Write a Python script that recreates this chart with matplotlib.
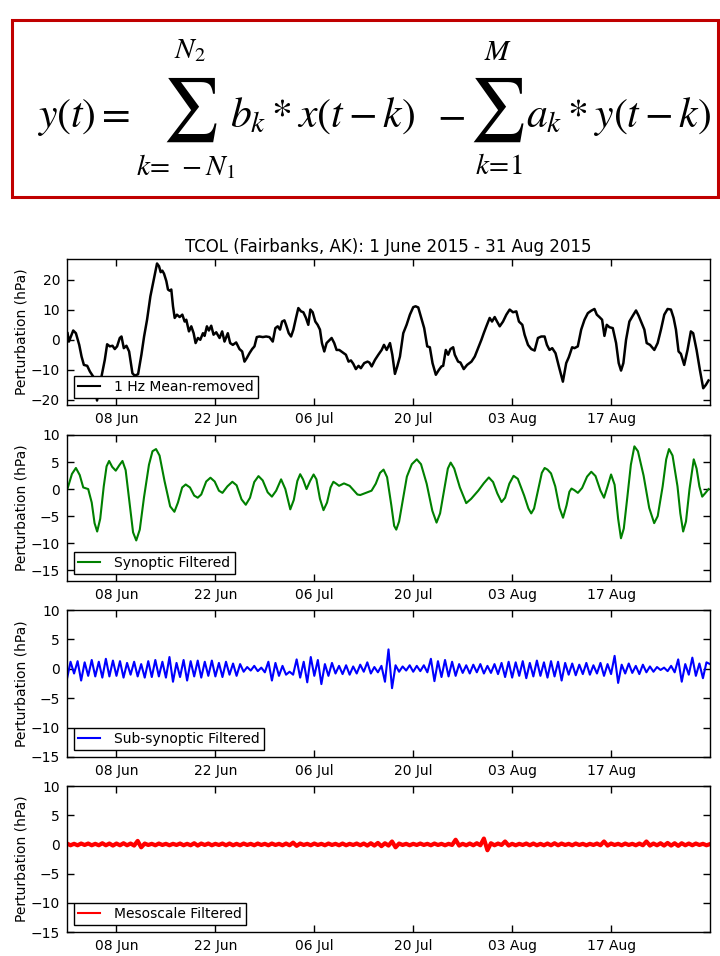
import datetime as dt
import numpy as np
import matplotlib
matplotlib.use("Agg")
import matplotlib.pyplot as plt
import matplotlib.dates as mdates
from matplotlib.patches import Rectangle

plt.rcParams['font.family'] = ['DejaVu Sans']
plt.rcParams['mathtext.fontset'] = 'stix'
plt.rcParams['axes.unicode_minus'] = True

# ---------------- data (days since 2015-06-01, hPa) ----------------
START = dt.datetime(2015, 6, 1)
END = dt.datetime(2015, 8, 31)
tick_dates = [dt.datetime(2015, 6, 8), dt.datetime(2015, 6, 22), dt.datetime(2015, 7, 6),
              dt.datetime(2015, 7, 20), dt.datetime(2015, 8, 3), dt.datetime(2015, 8, 17)]

raw_days = [0.08, 0.27, 0.55, 0.88, 1.26, 1.73, 2.06, 2.39, 2.86, 3.24, 3.71, 4.0, 4.25, 4.5,
            4.88, 5.35, 5.68, 6.06, 6.44, 6.76, 7.09, 7.47, 7.71, 8.04, 8.41, 8.79, 9.26, 9.59,
            10.06, 10.53, 10.91, 11.33, 11.80, 12.18, 12.51, 12.74, 13.02, 13.26, 13.49, 13.73,
            14.06, 14.29, 14.53, 14.76, 15.00, 15.24, 15.56, 15.94, 16.32, 16.65, 16.88, 17.26,
            17.59, 17.92, 18.20, 18.53, 18.86, 19.24, 19.47, 19.80, 20.08, 20.41, 20.74, 21.12,
            21.59, 21.96, 22.29, 22.76, 23.09, 23.47, 23.94, 24.41, 24.79, 25.12, 25.45, 25.82,
            26.20, 26.53, 26.86, 27.24, 27.71, 28.18, 28.65, 29.12, 29.49, 29.82, 30.15, 30.44,
            30.77, 31.00, 31.38, 31.71, 32.04, 32.41, 32.74, 33.12, 33.45, 33.82, 34.15, 34.44,
            34.77, 35.14, 35.47, 35.80, 36.08, 36.41, 36.74, 37.12, 37.45, 37.82, 38.15, 38.53,
            39.00, 39.47, 39.85, 40.18, 40.51, 40.88, 41.26, 41.59, 42.06, 42.53,
            42.79, 43.12, 43.59, 44.06, 44.53, 44.86, 45.24, 45.71, 46.04, 46.41, 46.74, 47.12,
            47.59, 48.06, 48.53, 49.00, 49.33, 49.71, 50.08, 50.55, 50.98, 51.35, 51.73, 52.20,
            52.62, 53.00, 53.24, 53.61, 53.94, 54.27, 54.65, 54.88, 55.35, 55.68, 56.15, 56.62,
            57.24, 57.71, 58.18, 58.65, 58.98, 59.35, 59.82, 60.15, 60.53, 60.86, 61.24, 61.71,
            62.18, 62.65, 63.12, 63.59, 63.96, 64.44, 64.76, 65.24, 65.71, 66.18, 66.65, 67.12,
            67.59, 67.92, 68.29, 68.67, 69.14, 69.61, 70.18, 70.65, 71.02, 71.49, 71.82, 72.29,
            72.77, 73.24, 73.71, 74.18, 74.65, 74.98, 75.35, 75.73, 76.06, 76.39, 76.77, 77.24,
            77.71, 78.08, 78.41, 78.74, 79.12, 79.59, 80.06, 80.53, 80.91, 81.24, 81.71, 82.04,
            82.51, 83.12, 83.59, 84.06, 84.53, 85.00, 85.47, 85.85, 86.18, 86.55, 86.88, 87.35,
            87.82, 88.29, 88.62, 89.10, 89.57, 90.04, 90.41, 90.79]
raw_values = [2.2, -0.6, 1.1, 3.1, 2.2, -1.7, -5.6, -8.4, -8.7, -10.6, -12.3, -16.0, -20.3, -17.0,
              -12.3, -6.7, -1.5, -2.2, -2.0, -3.1, -2.2, 0.6, 1.1, -2.8, -2.0, -3.9, -11.2, -12.0,
              -11.5, -5.0, 1.1, 6.7, 14.5, 19.0, 22.9, 25.5, 24.6, 22.6, 23.1, 22.1,
              19.6, 16.8, 16.4, 16.8, 11.2, 7.3, 8.4, 7.6, 8.4, 6.1, 6.7, 2.8,
              4.5, 2.2, -1.1, 0.6, 0.0, 2.2, 1.3, 4.5, 3.1, 4.7, 1.7, 2.5,
              0.6, 2.8, -0.6, 2.2, -1.1, -1.7, -0.9, -3.1, -3.9, -7.3, -6.1, -4.5,
              -3.1, -2.2, 0.9, 1.1, 0.9, 1.1, 0.9, -0.6, 3.9, 4.5, 3.4, 6.1,
              6.5, 5.0, 2.2, 1.1, 3.4, 7.3, 10.6, 9.5, 9.2, 7.3, 5.0, 10.1,
              9.2, 6.1, 5.0, 3.4, -1.1, -3.9, -1.1, -0.2, 0.6, -1.1, -3.4, -3.4,
              -4.2, -5.0, -7.3, -6.9, -8.0, -9.8, -8.7, -9.5, -7.8, -7.3,
              -7.6, -8.9, -6.7, -5.0, -3.4, -1.7, -3.4, -1.1, -5.0, -11.4, -8.9, -5.6,
              2.2, 5.0, 8.4, 10.9, 11.2, 10.8, 7.8, 3.9, -2.2, -2.5, -7.8, -11.7,
              -10.1, -8.9, -8.7, -3.4, -5.0, -3.1, -2.5, -5.0, -7.3, -7.6, -9.8, -8.4,
              -7.3, -5.6, -2.8, 0.0, 2.2, 4.5, 7.3, 6.1, 7.6, 6.1, 4.5, 6.1,
              8.4, 10.1, 9.2, 9.5, 6.1, 5.0, 1.7, -1.7, -3.1, -3.6, 0.6, 1.1,
              1.1, -1.7, -3.4, -2.8, -4.5, -8.9, -14.0, -7.8, -5.8, -2.5, -2.8, -2.2,
              3.4, 6.7, 8.9, 9.7, 10.3, 8.4, 7.6, 6.7, 1.3, 5.0, 4.2, 3.9,
              -1.1, -7.8, -10.3, -7.8, 0.0, 6.1, 8.0, 9.8, 8.0, 6.1, 3.4, -1.1,
              -1.7, -3.4, -1.1, 3.4, 8.4, 10.3, 10.1, 7.3, 3.4, -3.9, -4.7, -8.4,
              -3.4, 2.8, 2.2, -3.4, -10.1, -16.2, -15.1, -13.6]

syn_days = [0.08, 0.7, 1.26, 1.8, 2.3, 3.0, 3.5, 3.9, 4.27, 4.7, 5.2, 5.6, 5.96, 6.4, 6.9, 7.4,
            7.85, 8.3, 8.8, 9.35, 9.8, 10.3, 10.9, 11.6, 12.1, 12.6, 13.1, 13.8, 14.6, 15.2, 15.7,
            16.3, 16.8, 17.4, 18.0, 18.5, 19.0, 19.7, 20.3, 20.9, 21.5, 22.0, 22.7, 23.4, 24.0,
            24.7, 25.3, 25.9, 26.5, 27.1, 27.7, 28.4, 29.0, 29.6, 30.3, 30.9, 31.6, 32.1, 32.6,
            33.0, 33.4, 33.9, 34.4, 34.9, 35.3, 35.8, 36.3, 36.8, 37.3, 37.7, 38.1, 38.5, 39.2,
            40.0, 41.1, 41.5, 42.3, 43.1, 43.7, 44.3, 44.8, 45.3, 45.9, 46.3, 46.6, 47.0, 47.6,
            48.1, 48.8, 49.5, 50.1, 50.9, 51.7, 52.3, 52.8, 53.4, 53.9, 54.3, 54.8, 55.6, 56.5,
            57.2, 58.2, 59.0, 59.7, 60.3, 60.9, 61.5, 62.0, 62.6, 63.2, 63.8, 64.7, 65.3, 65.7,
            66.1, 66.8, 67.2, 67.6, 68.0, 68.5, 69.1, 69.7, 70.2, 70.7, 71.1, 71.4, 71.8, 72.3,
            72.9, 73.6, 74.2, 74.8, 75.5, 76.0, 76.5, 77.0, 77.5, 78.0, 78.4, 78.8, 79.3, 79.8,
            80.3, 80.8, 81.6, 82.4, 83.1, 83.6, 84.3, 84.8, 85.2, 85.7, 86.4, 86.8, 87.2, 87.6,
            88.1, 88.7, 89.1, 89.5, 89.9, 90.3, 90.8]
syn_values = [0.1, 2.8, 3.9, 2.6, 0.3, 0.0, -2.5, -6.3, -7.85, -5.5, 0.5, 4.2, 5.2, 4.1, 3.4, 4.4,
              5.2, 3.5, -2.0, -8.0, -9.5, -7.5, -1.5, 4.5, 7.0, 7.4, 6.2, 1.5, -3.2, -4.2, -2.5,
              0.3, 0.85, 0.3, -1.2, -1.6, -1.0, 1.4, 2.1, 1.4, -0.3, -0.7, 0.5, 1.35, 0.7,
              -1.9, -2.9, -1.6, 1.3, 2.4, 1.6, -0.6, -1.4, -0.3, 1.8, 0.0, -3.75, -2.0, 1.5,
              2.75, 1.8, 0.0, 1.5, 2.7, 1.8, -1.8, -3.9, -2.5, 0.3, 1.35, 1.0, 0.6, 1.05,
              0.6, -1.0, -1.1, -0.7, -0.3, 1.0, 3.0, 3.6, 2.2, -3.0, -6.8, -7.5, -6.0, -1.5,
              2.3, 4.6, 5.5, 4.6, 1.0, -4.0, -6.2, -4.5, 0.0, 3.8, 4.9, 3.8, 0.3, -2.6,
              -1.8, -0.3, 1.1, 2.15, 1.3, -0.8, -2.4, -1.6, 1.0, 2.45, 1.9, -1.2, -3.6, -4.5,
              -3.6, 0.6, 3.0, 3.9, 3.6, 2.9, 0.5, -3.5, -5.3, -3.0, -0.5, 0.1, -0.2, -0.7,
              0.2, 2.3, 3.2, 2.4, -0.3, -1.6, 0.5, 2.7, 0.8, -5.5, -9.1, -7.3, -1.5, 4.5,
              7.9, 7.0, 2.5, -3.5, -6.3, -5.0, 0.5, 5.5, 7.4, 6.2, 0.5, -4.5, -7.85, -6.0,
              0.0, 5.5, 3.8, 0.5, -1.4, -0.8, 0.0]

# sub-synoptic and mesoscale: one value every half day from 1 Jun to 31 Aug
half_day_step = 0.5
sub_values = [-1.7, 1.2, -0.8, 1.3, -2.0, 1.1, -1.2, 1.5, -1.3, 1.2,
              -1.5, 1.7, -1.3, 1.4, -1.2, 1.3, -1.5, 1.0, -1.0, 1.2,
              -1.3, 0.8, -1.5, 1.3, -1.4, 1.5, -1.3, 1.2, -1.5, 2.0,
              -2.2, 1.0, -1.4, 1.5, -2.0, 1.3, -1.3, 1.4, -1.5, 1.2,
              -1.2, 1.4, -1.3, 1.0, -1.4, 1.2, -1.0, 0.9, -1.2, 0.8,
              -0.5, 0.3, -0.3, 0.5, -0.4, 0.2, -0.6, 1.2, -2.0, 1.0,
              -1.2, 0.5, -1.0, -0.5, -1.0, 1.6, -1.5, 1.2, -2.3, 2.0,
              -1.2, 1.5, -2.6, 0.8, -1.2, 1.0, -0.8, 0.5, -0.9, 0.6,
              -1.0, 0.4, -0.8, 0.7, -0.5, 1.1, -0.8, 0.3, -0.6, 0.5,
              -2.2, 3.3, -3.3, 0.6, -0.5, 0.4, -0.3, 0.6, -0.5, 0.5,
              -0.4, 0.6, -0.6, 1.7, -2.1, 1.3, -1.4, 1.5, -1.3, 1.2,
              -1.2, 0.8, -0.7, 0.6, -0.8, 0.7, -0.6, 0.8, -0.8, 0.5,
              -0.7, 0.8, -0.9, 1.0, -1.4, 1.2, -1.5, 1.1, -1.2, 1.3,
              -1.6, 1.0, -1.3, 1.4, -1.2, 1.1, -1.5, 1.3, -1.3, 1.2,
              -2.0, 1.0, -1.0, 0.9, -1.1, 0.7, -0.9, 1.0, -1.0, 0.6,
              -0.8, 1.0, -1.2, 0.8, -0.9, 2.2, -2.4, 0.7, -0.8, 0.9,
              -0.7, 0.5, -0.9, 0.7, -0.6, 0.4, -0.5, 0.3, -0.2, 0.2,
              -0.4, 0.5, -0.6, 1.6, -2.2, 0.8, -1.0, 1.9, -1.2, 0.9,
              -1.6, 1.1, 0.8]
meso_values = [0.15, -0.15, 0.1, -0.15, 0.15, -0.1, 0.15, -0.15, 0.1, -0.15,
               0.2, -0.15, 0.15, -0.2, 0.15, -0.15, 0.2, -0.15, 0.15, -0.2,
               0.6, -0.5, 0.15, -0.1, 0.1, -0.15, 0.15, -0.1, 0.1, -0.15,
               0.1, -0.1, 0.15, -0.15, 0.1, -0.15, 0.2, -0.2, 0.15, -0.1,
               0.15, -0.15, 0.1, -0.1, 0.15, -0.15, 0.15, -0.15, 0.1, -0.15,
               0.15, -0.1, 0.1, -0.15, 0.15, -0.1, 0.1, -0.15, 0.15, -0.1,
               0.1, -0.15, 0.15, -0.15, 0.3, -0.25, 0.15, -0.1, 0.1, -0.15,
               0.15, -0.1, 0.1, -0.15, 0.15, -0.1, 0.1, -0.15, 0.15, -0.15,
               0.1, -0.1, 0.15, -0.15, 0.15, -0.2, 0.2, -0.2, 0.25, -0.3,
               0.2, -0.2, 0.5, -0.5, 0.15, -0.1, 0.1, -0.15, 0.1, -0.1,
               0.15, -0.1, 0.1, -0.15, 0.15, -0.1, 0.1, -0.15, 0.1, -0.1,
               0.8, -0.2, 0.1, -0.15, 0.15, -0.15, 0.2, -0.15, 1.0, -1.0,
               0.2, -0.15, 0.15, -0.1, 0.5, -0.2, 0.1, -0.15, 0.1, -0.1,
               0.15, -0.15, 0.15, -0.15, 0.1, -0.15, 0.15, -0.15, 0.2, -0.15,
               0.15, -0.1, 0.1, -0.15, 0.15, -0.1, 0.1, -0.15, 0.1, -0.1,
               0.15, -0.15, 0.5, -0.2, 0.15, -0.1, 0.1, -0.15, 0.15, -0.1,
               0.1, -0.15, 0.15, -0.15, 0.5, -0.2, 0.15, -0.15, 0.2, -0.2,
               0.25, -0.2, 0.2, -0.25, 0.2, -0.15, 0.15, -0.15, 0.15, -0.1,
               0.1, -0.15, 0.05]

labels = ["1 Hz Mean-removed", "Synoptic Filtered", "Sub-synoptic Filtered", "Mesoscale Filtered"]
colors = ["k", "g", "b", "r"]
title = "TCOL (Fairbanks, AK): 1 June 2015 - 31 Aug 2015"
ylabel = "Perturbation (hPa)"

# ---------------- figure ----------------
fig = plt.figure(figsize=(7.2, 9.56), dpi=100)
W, H = 720.0, 956.0

# equation box drawn in an overlay axes measured in pixels of the top band
eq = fig.add_axes([0, 1 - 210 / H, 1, 210 / H])
eq.set_xlim(0, 720)
eq.set_ylim(210, 0)
eq.axis("off")
eq.add_patch(Rectangle((12, 20), 706, 177, fill=False, edgecolor="#c00000", linewidth=2.2,
                       clip_on=False))
main_fs, lim_fs, sum_fs = 30, 21, 45
eq.text(37, 127, r"$y(t)=$", fontsize=main_fs, ha="left", va="baseline")
eq.text(190, 110, r"$\sum$", fontsize=sum_fs, ha="center", va="center")
eq.text(190, 50, r"$N_2$", fontsize=lim_fs, ha="center", va="center")
eq.text(186, 167, r"$k\!=\,-N_1$", fontsize=lim_fs, ha="center", va="center")
eq.text(230, 127, r"$b_k * x(t-k)$", fontsize=main_fs, ha="left", va="baseline")
eq.text(451, 127, r"$-$", fontsize=main_fs, ha="center", va="baseline")
eq.text(497, 110, r"$\sum$", fontsize=sum_fs, ha="center", va="center")
eq.text(498, 52, r"$M$", fontsize=lim_fs, ha="center", va="center")
eq.text(499, 166, r"$k\!=\!1$", fontsize=lim_fs, ha="center", va="center")
eq.text(526, 127, r"$a_k * y(t-k)$", fontsize=main_fs, ha="left", va="baseline")

base = mdates.date2num(START)
half_days = np.arange(len(sub_values)) * half_day_step

series = [
    (np.array(raw_days), raw_values),
    (np.array(syn_days), syn_values),
    (half_days, sub_values),
    (half_days, meso_values),
]
ylims = [(-21.8, 27.0), (-17, 10), (-15, 10), (-15, 10)]
yticks = [[-20, -10, 0, 10, 20], [-15, -10, -5, 0, 5, 10], [-15, -10, -5, 0, 5, 10],
          [-15, -10, -5, 0, 5, 10]]
tops = [259, 435, 610, 786]
heights = [146, 146, 147, 146]
lws = [1.8, 1.5, 1.5, 3.0]

for i in range(4):
    ax = fig.add_axes([67 / W, 1 - (tops[i] + heights[i]) / H, 643 / W, heights[i] / H])
    d, v = series[i]
    ax.plot(base + d, v, color=colors[i], lw=lws[i], label=labels[i])
    ax.set_xlim(mdates.date2num(START), mdates.date2num(END))
    ax.set_ylim(*ylims[i])
    ax.set_yticks(yticks[i])
    ax.set_xticks([mdates.date2num(t) for t in tick_dates])
    ax.xaxis.set_major_formatter(mdates.DateFormatter("%d %b"))
    ax.tick_params(direction="in", top=True, right=True, length=5, width=1, labelsize=10, pad=5)
    ax.set_ylabel(ylabel, fontsize=10, labelpad=2)
    for s in ax.spines.values():
        s.set_linewidth(1.0)
    leg = ax.legend(loc="lower left", fontsize=10, fancybox=False, framealpha=1,
                    edgecolor="black", borderpad=0.3, handlelength=1.6, handletextpad=1.0,
                    borderaxespad=0.5)
    leg.get_frame().set_linewidth(1.0)
    for line in leg.get_lines():
        line.set_linewidth(1.5)
    if i == 0:
        ax.set_title(title, fontsize=12, pad=5)

fig.savefig("out.png", dpi=100)
